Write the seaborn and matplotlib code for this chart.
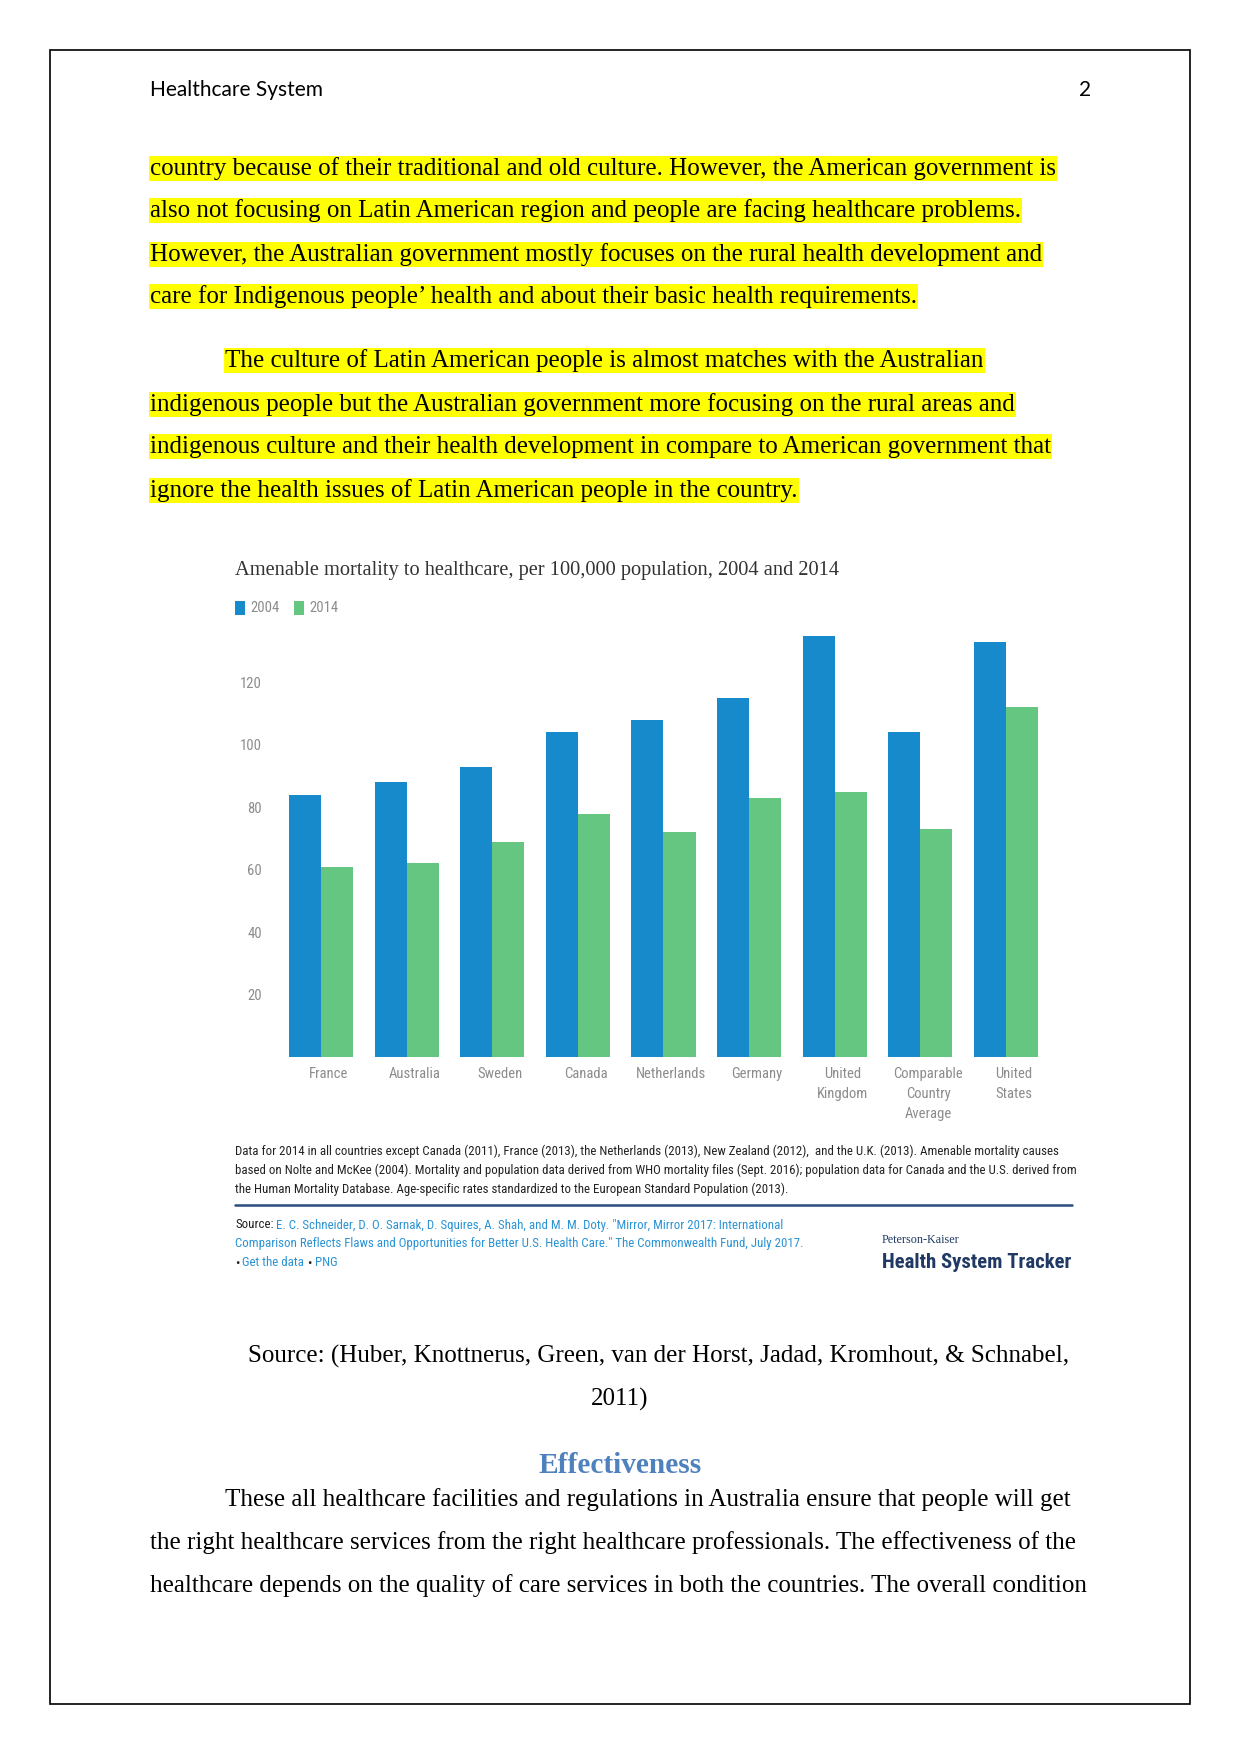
import numpy as np
import pandas as pd
import matplotlib
matplotlib.use("Agg")
import matplotlib.pyplot as plt
import seaborn as sns
from matplotlib.patches import Patch, Rectangle
from matplotlib.transforms import ScaledTranslation
from matplotlib import font_manager

# ---------------- data ----------------
countries = ["France", "Australia", "Sweden", "Canada", "Netherlands", "Germany",
             "United\nKingdom", "Comparable\nCountry\nAverage", "United\nStates"]
mort_2004 = [84, 88, 93, 104, 108, 115, 135, 104, 133]
mort_2014 = [61, 62, 69, 78, 72, 83, 85, 73, 112]
years = ["2004", "2014"]
y_ticks = [20, 40, 60, 80, 100, 120]

chart_title = "Amenable mortality to healthcare, per 100,000 population, 2004 and 2014"
footnote_lines = [
    "Data for 2014 in all countries except Canada (2011), France (2013), the Netherlands (2013), New Zealand (2012),  and the U.K. (2013). Amenable mortality causes",
    "based on Nolte and McKee (2004). Mortality and population data derived from WHO mortality files (Sept. 2016); population data for Canada and the U.S. derived from",
    "the Human Mortality Database. Age-specific rates standardized to the European Standard Population (2013).",
]
source_line1 = "E. C. Schneider, D. O. Sarnak, D. Squires, A. Shah, and M. M. Doty. \"Mirror, Mirror 2017: International"
source_line2 = "Comparison Reflects Flaws and Opportunities for Better U.S. Health Care.\" The Commonwealth Fund, July 2017."

para1 = [
    "country because of their traditional and old culture. However, the American government is",
    "also not focusing on Latin American region and people are facing healthcare problems.",
    "However, the Australian government mostly focuses on the rural health development and",
    "care for Indigenous people\u2019 health and about their basic health requirements.",
]
para2 = [
    "The culture of Latin American people is almost matches with the Australian",
    "indigenous people but the Australian government more focusing on the rural areas and",
    "indigenous culture and their health development in compare to American government that",
    "ignore the health issues of Latin American people in the country.",
]
citation = ["Source: (Huber, Knottnerus, Green, van der Horst, Jadad, Kromhout, & Schnabel,", "2011)"]
heading = "Effectiveness"
para3 = [
    "These all healthcare facilities and regulations in Australia ensure that people will get",
    "the right healthcare services from the right healthcare professionals. The effectiveness of the",
    "healthcare depends on the quality of care services in both the countries. The overall condition",
]

# ---------------- fonts ----------------
available = {f.name for f in font_manager.fontManager.ttflist}
def pick(*names):
    for n in names:
        if n in available:
            return n
    return "DejaVu Sans"

NARROW = pick("Liberation Sans Narrow", "Roboto Condensed", "Liberation Sans")
SERIF = pick("Liberation Serif", "DejaVu Serif")
TITLE = pick("DejaVu Serif Condensed", "Liberation Serif", "DejaVu Serif")
SANS = pick("Lato", "Liberation Sans", "DejaVu Sans")

sns.set_style("white")
plt.rcParams["font.family"] = [NARROW, "DejaVu Sans"]

BLUE = "#168acb"
GREEN = "#65c682"
GRAY = "#8c8c8c"
LINK = "#2a93d5"
NAVY = "#1f3864"

W, H, DPI = 1241, 1754, 150
fig = plt.figure(figsize=(W / DPI, H / DPI), dpi=DPI)
fig.patch.set_facecolor("white")
page = fig.add_axes([0, 0, 1, 1])
page.set_xlim(0, W)
page.set_ylim(H, 0)
page.axis("off")
renderer = fig.canvas.get_renderer()


def text_width(s, size, family, weight="normal"):
    t = page.text(0, 0, s, fontsize=size, family=family, fontweight=weight)
    w = t.get_window_extent(renderer).width
    t.remove()
    return w


def fit_size(s, family, width, base=12, weight="normal"):
    return base * width / text_width(s, base, family, weight)


def put(x, y, s, size, family, color="black", ha="left", va="center", weight="normal", **kw):
    return page.text(x, y, s, fontsize=size, family=family, color=color, ha=ha, va=va,
                     fontweight=weight, **kw)


DY = 2.5  # vertical nudge for document text

# page border
page.add_patch(Rectangle((50, 50), 1140, 1654, fill=False, ec="black", lw=0.8))

# header
hsize = fit_size("Healthcare System", SANS, 173)
put(150, 88 + DY, "Healthcare System", hsize, SANS)
put(1091, 88 + DY, "2", hsize, SANS, ha="right")

# body text: common size from measured right ends
targets = [(para1[0], 150, 1056), (para1[1], 150, 1020), (para1[2], 150, 1042),
           (para2[1], 150, 1015), (para2[2], 150, 1049), (para3[1], 150, 1073),
           (para3[2], 150, 1084)]
sizes = [fit_size(s, SERIF, r - l) for s, l, r in targets]
BODY = float(np.median(sizes))
HL = dict(boxstyle="square,pad=0.05", fc="#ffff00", ec="none")

for s, y in zip(para1, [166, 208, 252, 294]):
    put(150, y + DY, s, BODY, SERIF, bbox=HL)
for i, (s, y) in enumerate(zip(para2, [358, 402, 444, 488])):
    put(225 if i == 0 else 150, y + DY, s, BODY, SERIF, bbox=HL)

put(248, 1354 + DY, citation[0], BODY, SERIF)
put(620, 1397 + DY, citation[1], BODY, SERIF, ha="center")
esize = fit_size(heading, SERIF, 163, weight="bold")
put(620, 1463 + DY, heading, esize, SERIF, color="#4f81bd", ha="center", weight="bold")
for i, (s, y) in enumerate(zip(para3, [1497, 1540, 1583])):
    put(225 if i == 0 else 150, y + DY, s, BODY, SERIF)

# ---------------- chart ----------------
tsize = fit_size(chart_title, TITLE, 604)
put(235, 570, chart_title, tsize, TITLE, color="#333333")

ax = fig.add_axes([270 / W, 1 - 1057 / H, 790 / W, 437 / H])
df = pd.DataFrame({
    "country": countries * 2,
    "year": [years[0]] * len(countries) + [years[1]] * len(countries),
    "value": mort_2004 + mort_2014,
})
sns.barplot(data=df, x="country", y="value", hue="year", order=countries,
            palette=[BLUE, GREEN], saturation=1, width=0.75, gap=0,
            linewidth=0, edgecolor="none", legend=False, ax=ax)
ax.set_xlim(-0.596, 8.633)
ax.set_ylim(0, 140)
ax.set_yticks(y_ticks)
ax.set_yticklabels([str(v) for v in y_ticks])
ax.set_xlabel("")
ax.set_ylabel("")
for sp in ax.spines.values():
    sp.set_visible(False)
ax.tick_params(axis="both", length=0, labelsize=7, labelcolor=GRAY)
ax.tick_params(axis="y", pad=3.8)
ax.tick_params(axis="x", pad=4.6)
ax.patch.set_alpha(0)
off = ScaledTranslation(8 / DPI, 0, fig.dpi_scale_trans)
for lbl in ax.get_xticklabels():
    lbl.set_linespacing(1.55)
    lbl.set_transform(lbl.get_transform() + off)

handles = [Patch(facecolor=BLUE, edgecolor="none"), Patch(facecolor=GREEN, edgecolor="none")]
ax.legend(handles, years, loc="center left", bbox_to_anchor=(235 / W, 1 - 608 / H),
          bbox_transform=fig.transFigure, frameon=False, ncol=2,
          prop={"family": NARROW, "size": 7}, labelcolor=GRAY,
          handlelength=0.7, handleheight=1.1, handletextpad=0.35,
          columnspacing=1.0, borderpad=0, borderaxespad=0)

# footnotes
fsize = fit_size(footnote_lines[1], NARROW, 837)
for s, y in zip(footnote_lines, [1151, 1170, 1189]):
    put(235, y, s, fsize, NARROW, color="#222222")
page.plot([235, 1072], [1205, 1205], color="#2b4c7e", lw=1.2)

ssize = fit_size("Source: " + source_line1, NARROW, 544)


def runs(x, y, parts, size, family):
    sp = text_width("a a", size, family) - text_width("aa", size, family)
    for s, c in parts:
        st = s.strip()
        put(x, y, st, size, family, color=c)
        x += text_width(st, size, family) + (sp if s.endswith(" ") else 0)


runs(235, 1225, [("Source: ", "#222222"), (source_line1, LINK)], ssize, NARROW)
put(235, 1244, source_line2, ssize, NARROW, color=LINK)
runs(235, 1263, [("\u2022 ", "#222222"), ("Get the data ", LINK), ("\u2022 ", "#222222"), ("PNG", LINK)],
     ssize, NARROW)

psize = fit_size("Peterson-Kaiser", SERIF, 78)
put(882, 1240, "Peterson-Kaiser", psize, SERIF, color=NAVY)
lsize = fit_size("Health System Tracker", NARROW, 190, weight="bold")
put(882, 1262, "Health System Tracker", lsize, NARROW, color=NAVY, weight="bold")

fig.savefig("out.png", dpi=DPI, facecolor="white")
